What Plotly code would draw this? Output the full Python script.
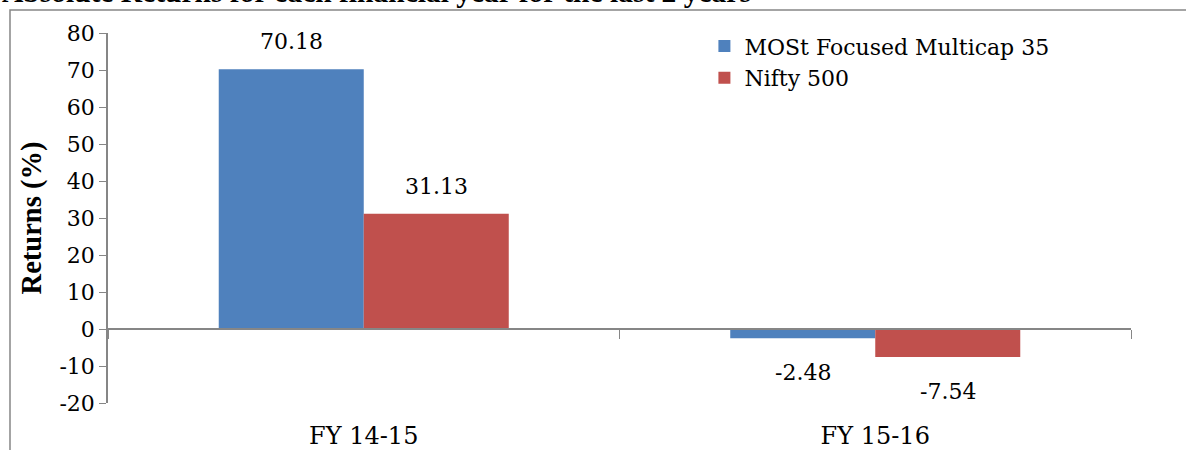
import plotly.graph_objects as go

years = ["FY 14-15", "FY 15-16"]
fund_returns = [70.18, -2.48]
nifty_returns = [31.13, -7.54]
series_names = ["MOSt Focused Multicap 35", "Nifty 500"]
colors = ["#4F81BD", "#C0504D"]
y_ticks = [-20, -10, 0, 10, 20, 30, 40, 50, 60, 70, 80]

# regular Liberation Serif is not picked up in the sandbox, DejaVu Serif is
SERIF = "DejaVu Serif"
SERIF_BOLD = "Liberation Serif"
AXIS_GREY = "#868686"

fig = go.Figure()
for name, vals, col in zip(series_names, [fund_returns, nifty_returns], colors):
    fig.add_trace(go.Bar(x=years, y=vals, name=name, marker_color=col,
                         marker_line_width=0))

# value labels, pushed a bit away from the bar end like the original
for vals, shift in [(fund_returns, -72.5), (nifty_returns, 72.5)]:
    for yr, v in zip(years, vals):
        fig.add_annotation(x=yr, y=v, text=f"{v:.2f}", showarrow=False,
                           xshift=shift, yshift=13 if v >= 0 else -20,
                           yanchor="bottom" if v >= 0 else "top",
                           font=dict(family=SERIF, size=22, color="black"))

# title, clipped at the top as in the source image
fig.add_annotation(text="<b>Absolute Returns for each financial year for the last 2 years</b>",
                   xref="paper", yref="paper", x=-0.1056, y=1.062, xanchor="left", yanchor="bottom",
                   showarrow=False, font=dict(family=SERIF_BOLD, size=29.5, color="black"))

# chart area border
fig.add_shape(type="rect", xref="paper", yref="paper", x0=-0.0958, y0=-0.5, x1=1.2, y1=1.0622,
              line=dict(color=AXIS_GREY, width=1.5), layer="below")

fig.update_layout(
    width=1186, height=450,
    margin=dict(l=108, r=55, t=33, b=47, autoexpand=False),
    paper_bgcolor="white", plot_bgcolor="white",
    barmode="group", bargap=0.433, bargroupgap=0,
    font=dict(family=SERIF, size=22, color="black"),
    legend=dict(x=0.583, y=1.021, xanchor="left", yanchor="top", bgcolor="rgba(0,0,0,0)",
                font=dict(family=SERIF, size=22), tracegroupgap=0, itemwidth=30),
    xaxis=dict(anchor="free", position=0.2, showline=True, linecolor=AXIS_GREY, linewidth=1.5,
               ticks="outside", ticklen=9, tickcolor=AXIS_GREY, tickson="boundaries",
               ticklabelstandoff=85, showgrid=False, automargin=False,
               tickfont=dict(family=SERIF, size=24, color="black")),
    yaxis=dict(range=[-20, 80], tickvals=y_ticks, ticktext=[str(t) for t in y_ticks],
               showline=True, linecolor=AXIS_GREY, linewidth=1.5, automargin=False,
               ticks="outside", ticklen=7, tickcolor=AXIS_GREY, showgrid=False, zeroline=False,
               tickfont=dict(family=SERIF, size=22, color="black"),
               title=dict(text="<b>Returns (%)</b>", font=dict(family=SERIF_BOLD, size=28.5), standoff=9)),
)

fig.write_html("out.html", config={"displayModeBar": False},
               post_script="document.body.style.margin='0';")
